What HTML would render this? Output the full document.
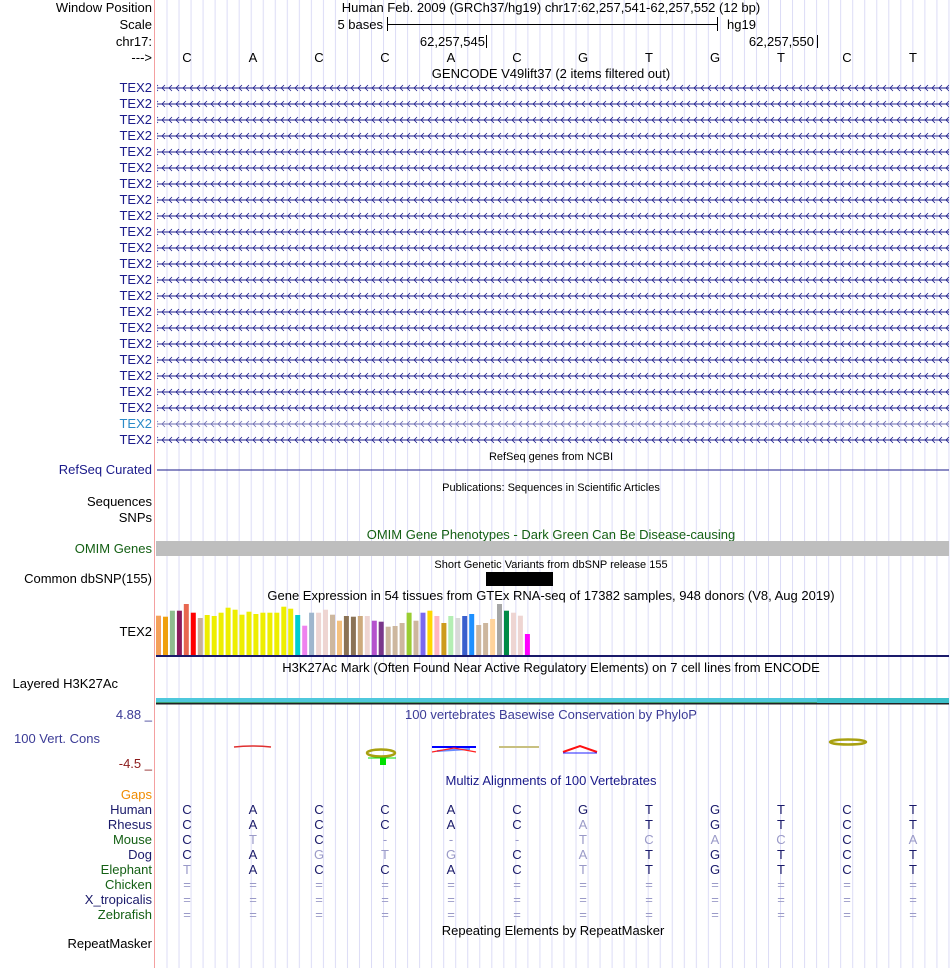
<!DOCTYPE html>
<html><head><meta charset="utf-8"><style>
html,body{margin:0;padding:0;background:#fff;}
svg{display:block;font-family:"Liberation Sans",Arial,sans-serif;}
</style></head><body>
<svg width="950" height="968" viewBox="0 0 950 968" xmlns="http://www.w3.org/2000/svg">
<defs>
<pattern id="grid" patternUnits="userSpaceOnUse" x="166.5" y="0" width="12.03" height="968">
<rect x="0" y="0" width="1" height="968" fill="#dcdcf6"/>
</pattern>
<pattern id="arr" patternUnits="userSpaceOnUse" x="0" y="-4" width="7" height="8">
<path d="M1 4 L4 1 M1 4 L4 7" stroke="#1a1a8a" stroke-width="0.8" fill="none"/>
</pattern>
<pattern id="arr2" patternUnits="userSpaceOnUse" x="0" y="-4" width="7" height="8">
<path d="M1 4 L4 1 M1 4 L4 7" stroke="#6a6ab0" stroke-width="0.8" fill="none"/>
</pattern>
</defs>
<rect x="156" y="0" width="794" height="968" fill="url(#grid)"/>
<rect x="154" y="0" width="1" height="968" fill="#f4a0a0"/>

<g font-size="13" fill="#000">
<text x="152" y="12" text-anchor="end">Window Position</text>
<text x="152" y="29" text-anchor="end">Scale</text>
<text x="152" y="46" text-anchor="end">chr17:</text>
<text x="152" y="62" text-anchor="end">---&gt;</text>
<text x="551" y="12" text-anchor="middle">Human Feb. 2009 (GRCh37/hg19)   chr17:62,257,541-62,257,552 (12 bp)</text>
<text x="383" y="29" text-anchor="end">5 bases</text>
<text x="727" y="29">hg19</text>
<text x="485" y="46" text-anchor="end">62,257,545</text>
<text x="814" y="46" text-anchor="end">62,257,550</text>
<text x="551" y="78" text-anchor="middle">GENCODE V49lift37 (2 items filtered out)</text>
</g>
<g stroke="#000" stroke-width="1">
<line x1="387.5" y1="17" x2="387.5" y2="31"/><line x1="717.5" y1="17" x2="717.5" y2="31"/>
<line x1="387" y1="24.5" x2="717" y2="24.5"/>
<line x1="486.5" y1="35" x2="486.5" y2="48"/><line x1="817.5" y1="35" x2="817.5" y2="48"/>
</g>
<g font-size="13" text-anchor="middle">
<text x="187" y="62">C</text><text x="253" y="62">A</text><text x="319" y="62">C</text><text x="385" y="62">C</text><text x="451" y="62">A</text><text x="517" y="62">C</text><text x="583" y="62">G</text><text x="649" y="62">T</text><text x="715" y="62">G</text><text x="781" y="62">T</text><text x="847" y="62">C</text><text x="913" y="62">T</text>
</g>

<g font-size="13" fill="#1a1a8a" text-anchor="end">
<text x="152" y="92">TEX2</text><text x="152" y="108">TEX2</text><text x="152" y="124">TEX2</text><text x="152" y="140">TEX2</text><text x="152" y="156">TEX2</text><text x="152" y="172">TEX2</text><text x="152" y="188">TEX2</text><text x="152" y="204">TEX2</text><text x="152" y="220">TEX2</text><text x="152" y="236">TEX2</text><text x="152" y="252">TEX2</text><text x="152" y="268">TEX2</text><text x="152" y="284">TEX2</text><text x="152" y="300">TEX2</text><text x="152" y="316">TEX2</text><text x="152" y="332">TEX2</text><text x="152" y="348">TEX2</text><text x="152" y="364">TEX2</text><text x="152" y="380">TEX2</text><text x="152" y="396">TEX2</text><text x="152" y="412">TEX2</text><text x="152" y="428" fill="#2a8ac8">TEX2</text><text x="152" y="444">TEX2</text>
</g>
<g>
<g transform="translate(0,88)"><rect x="157" y="-0.5" width="792" height="1" fill="#1a1a8a"/><rect x="157" y="-4" width="792" height="8" fill="url(#arr)"/></g>
<g transform="translate(0,104)"><rect x="157" y="-0.5" width="792" height="1" fill="#1a1a8a"/><rect x="157" y="-4" width="792" height="8" fill="url(#arr)"/></g>
<g transform="translate(0,120)"><rect x="157" y="-0.5" width="792" height="1" fill="#1a1a8a"/><rect x="157" y="-4" width="792" height="8" fill="url(#arr)"/></g>
<g transform="translate(0,136)"><rect x="157" y="-0.5" width="792" height="1" fill="#1a1a8a"/><rect x="157" y="-4" width="792" height="8" fill="url(#arr)"/></g>
<g transform="translate(0,152)"><rect x="157" y="-0.5" width="792" height="1" fill="#1a1a8a"/><rect x="157" y="-4" width="792" height="8" fill="url(#arr)"/></g>
<g transform="translate(0,168)"><rect x="157" y="-0.5" width="792" height="1" fill="#1a1a8a"/><rect x="157" y="-4" width="792" height="8" fill="url(#arr)"/></g>
<g transform="translate(0,184)"><rect x="157" y="-0.5" width="792" height="1" fill="#1a1a8a"/><rect x="157" y="-4" width="792" height="8" fill="url(#arr)"/></g>
<g transform="translate(0,200)"><rect x="157" y="-0.5" width="792" height="1" fill="#1a1a8a"/><rect x="157" y="-4" width="792" height="8" fill="url(#arr)"/></g>
<g transform="translate(0,216)"><rect x="157" y="-0.5" width="792" height="1" fill="#1a1a8a"/><rect x="157" y="-4" width="792" height="8" fill="url(#arr)"/></g>
<g transform="translate(0,232)"><rect x="157" y="-0.5" width="792" height="1" fill="#1a1a8a"/><rect x="157" y="-4" width="792" height="8" fill="url(#arr)"/></g>
<g transform="translate(0,248)"><rect x="157" y="-0.5" width="792" height="1" fill="#1a1a8a"/><rect x="157" y="-4" width="792" height="8" fill="url(#arr)"/></g>
<g transform="translate(0,264)"><rect x="157" y="-0.5" width="792" height="1" fill="#1a1a8a"/><rect x="157" y="-4" width="792" height="8" fill="url(#arr)"/></g>
<g transform="translate(0,280)"><rect x="157" y="-0.5" width="792" height="1" fill="#1a1a8a"/><rect x="157" y="-4" width="792" height="8" fill="url(#arr)"/></g>
<g transform="translate(0,296)"><rect x="157" y="-0.5" width="792" height="1" fill="#1a1a8a"/><rect x="157" y="-4" width="792" height="8" fill="url(#arr)"/></g>
<g transform="translate(0,312)"><rect x="157" y="-0.5" width="792" height="1" fill="#1a1a8a"/><rect x="157" y="-4" width="792" height="8" fill="url(#arr)"/></g>
<g transform="translate(0,328)"><rect x="157" y="-0.5" width="792" height="1" fill="#1a1a8a"/><rect x="157" y="-4" width="792" height="8" fill="url(#arr)"/></g>
<g transform="translate(0,344)"><rect x="157" y="-0.5" width="792" height="1" fill="#1a1a8a"/><rect x="157" y="-4" width="792" height="8" fill="url(#arr)"/></g>
<g transform="translate(0,360)"><rect x="157" y="-0.5" width="792" height="1" fill="#1a1a8a"/><rect x="157" y="-4" width="792" height="8" fill="url(#arr)"/></g>
<g transform="translate(0,376)"><rect x="157" y="-0.5" width="792" height="1" fill="#1a1a8a"/><rect x="157" y="-4" width="792" height="8" fill="url(#arr)"/></g>
<g transform="translate(0,392)"><rect x="157" y="-0.5" width="792" height="1" fill="#1a1a8a"/><rect x="157" y="-4" width="792" height="8" fill="url(#arr)"/></g>
<g transform="translate(0,408)"><rect x="157" y="-0.5" width="792" height="1" fill="#1a1a8a"/><rect x="157" y="-4" width="792" height="8" fill="url(#arr)"/></g>
<g transform="translate(0,424)"><rect x="157" y="-0.5" width="792" height="1" fill="#6a6ab0"/><rect x="157" y="-4" width="792" height="8" fill="url(#arr2)"/></g>
<g transform="translate(0,440)"><rect x="157" y="-0.5" width="792" height="1" fill="#1a1a8a"/><rect x="157" y="-4" width="792" height="8" fill="url(#arr)"/></g>
</g>

<text x="551" y="460" font-size="11" text-anchor="middle">RefSeq genes from NCBI</text>
<text x="152" y="474" font-size="13" fill="#1a1a8a" text-anchor="end">RefSeq Curated</text>
<rect x="157" y="469.5" width="792" height="1" fill="#1a1a8a"/>
<text x="551" y="491" font-size="11" text-anchor="middle">Publications: Sequences in Scientific Articles</text>
<text x="152" y="506" font-size="13" text-anchor="end">Sequences</text>
<text x="152" y="522" font-size="13" text-anchor="end">SNPs</text>
<text x="551" y="539" font-size="13" fill="#146014" text-anchor="middle">OMIM Gene Phenotypes - Dark Green Can Be Disease-causing</text>
<text x="152" y="553" font-size="13" fill="#146014" text-anchor="end">OMIM Genes</text>
<rect x="156" y="541" width="793" height="15" fill="#bebebe"/>
<text x="551" y="568" font-size="11" text-anchor="middle">Short Genetic Variants from dbSNP release 155</text>
<rect x="486" y="572" width="67" height="14" fill="#000"/>
<text x="152" y="583" font-size="13" text-anchor="end">Common dbSNP(155)</text>
<text x="551" y="600" font-size="13" text-anchor="middle">Gene Expression in 54 tissues from GTEx RNA-seq of 17382 samples, 948 donors (V8, Aug 2019)</text>
<text x="152" y="636" font-size="13" text-anchor="end">TEX2</text>

<g>
<rect x="156.0" y="615.7" width="5" height="39.3" fill="#F4A05A"/>
<rect x="163.0" y="616.7" width="5" height="38.3" fill="#EFA00D"/>
<rect x="169.9" y="610.7" width="5" height="44.3" fill="#8FBC8F"/>
<rect x="176.9" y="610.7" width="5" height="44.3" fill="#8B1A5C"/>
<rect x="183.8" y="604.0" width="5" height="51.0" fill="#E8674F"/>
<rect x="190.8" y="612.7" width="5" height="42.3" fill="#FF0000"/>
<rect x="197.8" y="618.0" width="5" height="37.0" fill="#C8B09A"/>
<rect x="204.7" y="615.0" width="5" height="40.0" fill="#EEEE00"/>
<rect x="211.7" y="616.0" width="5" height="39.0" fill="#EEEE00"/>
<rect x="218.6" y="612.7" width="5" height="42.3" fill="#EEEE00"/>
<rect x="225.6" y="607.7" width="5" height="47.3" fill="#EEEE00"/>
<rect x="232.6" y="609.7" width="5" height="45.3" fill="#EEEE00"/>
<rect x="239.5" y="614.7" width="5" height="40.3" fill="#EEEE00"/>
<rect x="246.5" y="611.7" width="5" height="43.3" fill="#EEEE00"/>
<rect x="253.4" y="614.0" width="5" height="41.0" fill="#EEEE00"/>
<rect x="260.4" y="612.7" width="5" height="42.3" fill="#EEEE00"/>
<rect x="267.4" y="612.7" width="5" height="42.3" fill="#EEEE00"/>
<rect x="274.3" y="612.7" width="5" height="42.3" fill="#EEEE00"/>
<rect x="281.3" y="606.7" width="5" height="48.3" fill="#EEEE00"/>
<rect x="288.2" y="608.7" width="5" height="46.3" fill="#EEEE00"/>
<rect x="295.2" y="615.0" width="5" height="40.0" fill="#00CDCD"/>
<rect x="302.2" y="625.7" width="5" height="29.3" fill="#EE82EE"/>
<rect x="309.1" y="612.7" width="5" height="42.3" fill="#9FB6CD"/>
<rect x="316.1" y="612.7" width="5" height="42.3" fill="#EED5D2"/>
<rect x="323.0" y="609.7" width="5" height="45.3" fill="#EED5D2"/>
<rect x="330.0" y="614.7" width="5" height="40.3" fill="#CDB79E"/>
<rect x="337.0" y="620.7" width="5" height="34.3" fill="#F4C17F"/>
<rect x="343.9" y="616.0" width="5" height="39.0" fill="#8B7355"/>
<rect x="350.9" y="616.7" width="5" height="38.3" fill="#8B7355"/>
<rect x="357.8" y="616.0" width="5" height="39.0" fill="#CDAA7D"/>
<rect x="364.8" y="616.0" width="5" height="39.0" fill="#EED5D2"/>
<rect x="371.8" y="620.7" width="5" height="34.3" fill="#B452CD"/>
<rect x="378.7" y="621.7" width="5" height="33.3" fill="#7A378B"/>
<rect x="385.7" y="626.7" width="5" height="28.3" fill="#CDB79E"/>
<rect x="392.6" y="626.0" width="5" height="29.0" fill="#CDB79E"/>
<rect x="399.6" y="623.0" width="5" height="32.0" fill="#CDB79E"/>
<rect x="406.6" y="612.7" width="5" height="42.3" fill="#9ACD32"/>
<rect x="413.5" y="620.7" width="5" height="34.3" fill="#CDB79E"/>
<rect x="420.5" y="612.7" width="5" height="42.3" fill="#7B68EE"/>
<rect x="427.4" y="610.7" width="5" height="44.3" fill="#FFD700"/>
<rect x="434.4" y="616.0" width="5" height="39.0" fill="#FFB6C1"/>
<rect x="441.4" y="623.0" width="5" height="32.0" fill="#CD9B1D"/>
<rect x="448.3" y="616.0" width="5" height="39.0" fill="#B4EEB4"/>
<rect x="455.3" y="618.0" width="5" height="37.0" fill="#D9D9D9"/>
<rect x="462.2" y="616.0" width="5" height="39.0" fill="#3A5FCD"/>
<rect x="469.2" y="614.0" width="5" height="41.0" fill="#1E90FF"/>
<rect x="476.2" y="625.0" width="5" height="30.0" fill="#CDB79E"/>
<rect x="483.1" y="623.0" width="5" height="32.0" fill="#CDB79E"/>
<rect x="490.1" y="619.0" width="5" height="36.0" fill="#FFD39B"/>
<rect x="497.0" y="604.0" width="5" height="51.0" fill="#A6A6A6"/>
<rect x="504.0" y="610.7" width="5" height="44.3" fill="#008B45"/>
<rect x="511.0" y="612.7" width="5" height="42.3" fill="#EED5D2"/>
<rect x="517.9" y="615.7" width="5" height="39.3" fill="#EED5D2"/>
<rect x="524.9" y="634.0" width="5" height="21.0" fill="#FF00FF"/>
</g>
<rect x="156" y="655" width="793" height="2" fill="#1a1a6a"/>

<text x="551" y="672" font-size="13" text-anchor="middle">H3K27Ac Mark (Often Found Near Active Regulatory Elements) on 7 cell lines from ENCODE</text>
<text x="118" y="688" font-size="13" text-anchor="end">Layered H3K27Ac</text>
<rect x="156" y="698" width="661" height="4" fill="#4ec8dc"/>
<rect x="156" y="702" width="661" height="1" fill="#3a9a70"/>
<rect x="817" y="698" width="132" height="5" fill="#3bbfc8"/>
<rect x="156" y="703" width="793" height="1.5" fill="#222"/>

<text x="551" y="719" font-size="13" fill="#3b3b96" text-anchor="middle">100 vertebrates Basewise Conservation by PhyloP</text>
<text x="152" y="719" font-size="13" fill="#3b3b96" text-anchor="end">4.88 _</text>
<text x="100" y="743" font-size="13" fill="#3b3b96" text-anchor="end">100 Vert. Cons</text>
<text x="152" y="768" font-size="13" fill="#8b1a1a" text-anchor="end">-4.5 _</text>
<g fill="none" stroke-width="1.5">
<path d="M234 747 Q252 745 271 747" stroke="#e03030"/>
<ellipse cx="381" cy="753" rx="14" ry="3.5" stroke="#a8a010" stroke-width="2.5"/>
<rect x="380" y="758" width="6" height="7" fill="#00e000" stroke="none"/>
<line x1="368" y1="758" x2="396" y2="758" stroke="#00e000" stroke-width="1"/>
<path d="M432 747 L476 747" stroke="#0000ff" stroke-width="2"/>
<path d="M437 751 L470 749" stroke="#6a8aff" stroke-width="2"/>
<path d="M432 752 L454 748 L476 752" stroke="#ff2020" stroke-width="1.2"/>
<path d="M499 747 L539 747" stroke="#c8c080" stroke-width="2"/>
<path d="M563 752 L580 746 L597 752" stroke="#ff1010" stroke-width="2"/>
<line x1="563" y1="753" x2="597" y2="753" stroke="#2020ff" stroke-width="1"/>
<ellipse cx="848" cy="742" rx="18" ry="2.5" stroke="#a8a010" stroke-width="2.5"/>
</g>

<text x="551" y="785" font-size="13" fill="#1a1a8a" text-anchor="middle">Multiz Alignments of 100 Vertebrates</text>
<g font-size="13" text-anchor="end">
<text x="152" y="799" fill="#f08c00">Gaps</text>
<text x="152" y="814" fill="#1a1a6a">Human</text>
<text x="152" y="829" fill="#1a1a6a">Rhesus</text>
<text x="152" y="844" fill="#146014">Mouse</text>
<text x="152" y="859" fill="#1a1a6a">Dog</text>
<text x="152" y="874" fill="#146014">Elephant</text>
<text x="152" y="889" fill="#146014">Chicken</text>
<text x="152" y="904" fill="#1a1a6a">X_tropicalis</text>
<text x="152" y="919" fill="#146014">Zebrafish</text>
<text x="152" y="948" fill="#000">RepeatMasker</text>
</g>
<g font-size="13" text-anchor="middle" fill="#1a1a6a">
<text x="187" y="814">C</text><text x="253" y="814">A</text><text x="319" y="814">C</text><text x="385" y="814">C</text><text x="451" y="814">A</text><text x="517" y="814">C</text><text x="583" y="814">G</text><text x="649" y="814">T</text><text x="715" y="814">G</text><text x="781" y="814">T</text><text x="847" y="814">C</text><text x="913" y="814">T</text>
<text x="187" y="829">C</text><text x="253" y="829">A</text><text x="319" y="829">C</text><text x="385" y="829">C</text><text x="451" y="829">A</text><text x="517" y="829">C</text><text x="583" y="829" fill="#9a9ac8">A</text><text x="649" y="829">T</text><text x="715" y="829">G</text><text x="781" y="829">T</text><text x="847" y="829">C</text><text x="913" y="829">T</text>
<text x="187" y="844">C</text><text x="253" y="844" fill="#9a9ac8">T</text><text x="319" y="844">C</text><text x="385" y="844" fill="#9a9ac8">-</text><text x="451" y="844" fill="#9a9ac8">-</text><text x="517" y="844" fill="#9a9ac8">-</text><text x="583" y="844" fill="#9a9ac8">T</text><text x="649" y="844" fill="#9a9ac8">C</text><text x="715" y="844" fill="#9a9ac8">A</text><text x="781" y="844" fill="#9a9ac8">C</text><text x="847" y="844">C</text><text x="913" y="844" fill="#9a9ac8">A</text>
<text x="187" y="859">C</text><text x="253" y="859">A</text><text x="319" y="859" fill="#9a9ac8">G</text><text x="385" y="859" fill="#9a9ac8">T</text><text x="451" y="859" fill="#9a9ac8">G</text><text x="517" y="859">C</text><text x="583" y="859" fill="#9a9ac8">A</text><text x="649" y="859">T</text><text x="715" y="859">G</text><text x="781" y="859">T</text><text x="847" y="859">C</text><text x="913" y="859">T</text>
<text x="187" y="874" fill="#9a9ac8">T</text><text x="253" y="874">A</text><text x="319" y="874">C</text><text x="385" y="874">C</text><text x="451" y="874">A</text><text x="517" y="874">C</text><text x="583" y="874" fill="#9a9ac8">T</text><text x="649" y="874">T</text><text x="715" y="874">G</text><text x="781" y="874">T</text><text x="847" y="874">C</text><text x="913" y="874">T</text>
</g>
<g font-size="13" text-anchor="middle" fill="#9a9ac8">
<text x="187" y="889">=</text><text x="253" y="889">=</text><text x="319" y="889">=</text><text x="385" y="889">=</text><text x="451" y="889">=</text><text x="517" y="889">=</text><text x="583" y="889">=</text><text x="649" y="889">=</text><text x="715" y="889">=</text><text x="781" y="889">=</text><text x="847" y="889">=</text><text x="913" y="889">=</text>
<text x="187" y="904">=</text><text x="253" y="904">=</text><text x="319" y="904">=</text><text x="385" y="904">=</text><text x="451" y="904">=</text><text x="517" y="904">=</text><text x="583" y="904">=</text><text x="649" y="904">=</text><text x="715" y="904">=</text><text x="781" y="904">=</text><text x="847" y="904">=</text><text x="913" y="904">=</text>
<text x="187" y="919">=</text><text x="253" y="919">=</text><text x="319" y="919">=</text><text x="385" y="919">=</text><text x="451" y="919">=</text><text x="517" y="919">=</text><text x="583" y="919">=</text><text x="649" y="919">=</text><text x="715" y="919">=</text><text x="781" y="919">=</text><text x="847" y="919">=</text><text x="913" y="919">=</text>
</g>
<text x="553" y="935" font-size="13" text-anchor="middle">Repeating Elements by RepeatMasker</text>
</svg>
</body></html>
